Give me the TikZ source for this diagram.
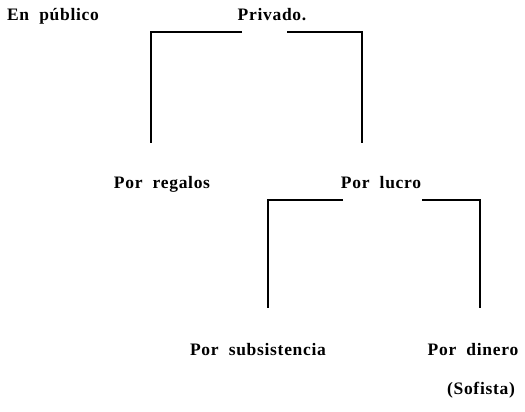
\documentclass[tikz,border=0pt]{standalone}
\usepackage{fontspec}
\setmainfont{Liberation Serif}[LetterSpace=4,WordSpace=2]
\begin{document}
\begin{tikzpicture}[x=1pt,y=-1pt,
  lbl/.style={inner sep=0pt,anchor=base,font=\fontsize{17.5}{18}\selectfont\bfseries},
  brk/.style={line width=1.1pt}]
\useasboundingbox (0,0) rectangle (525,412);
\node[lbl] (publico) at (53,21) {En público};
\node[lbl] (privado) at (272,21) {Privado.};
\node[lbl] (regalos) at (162,188) {Por regalos};
\node[lbl] (lucro) at (381,188) {Por lucro};
\node[lbl] (subsist) at (258,355) {Por subsistencia};
\node[lbl] (dinero) at (473,355) {Por dinero};
\node[lbl] (sofista) at (481,394) {(Sofista)};
% brackets
\coordinate (pa) at (242,32);\coordinate (pb) at (287,32);
\coordinate (ra) at (151,143);\coordinate (rb) at (362,143);
\coordinate (la) at (343,200);\coordinate (lb) at (422,200);
\coordinate (sa) at (268,308);\coordinate (sb) at (480,308);
\draw[brk](pa)-|(ra);
\draw[brk](pb)-|(rb);
\draw[brk](la)-|(sa);
\draw[brk](lb)-|(sb);
\end{tikzpicture}
\end{document}
